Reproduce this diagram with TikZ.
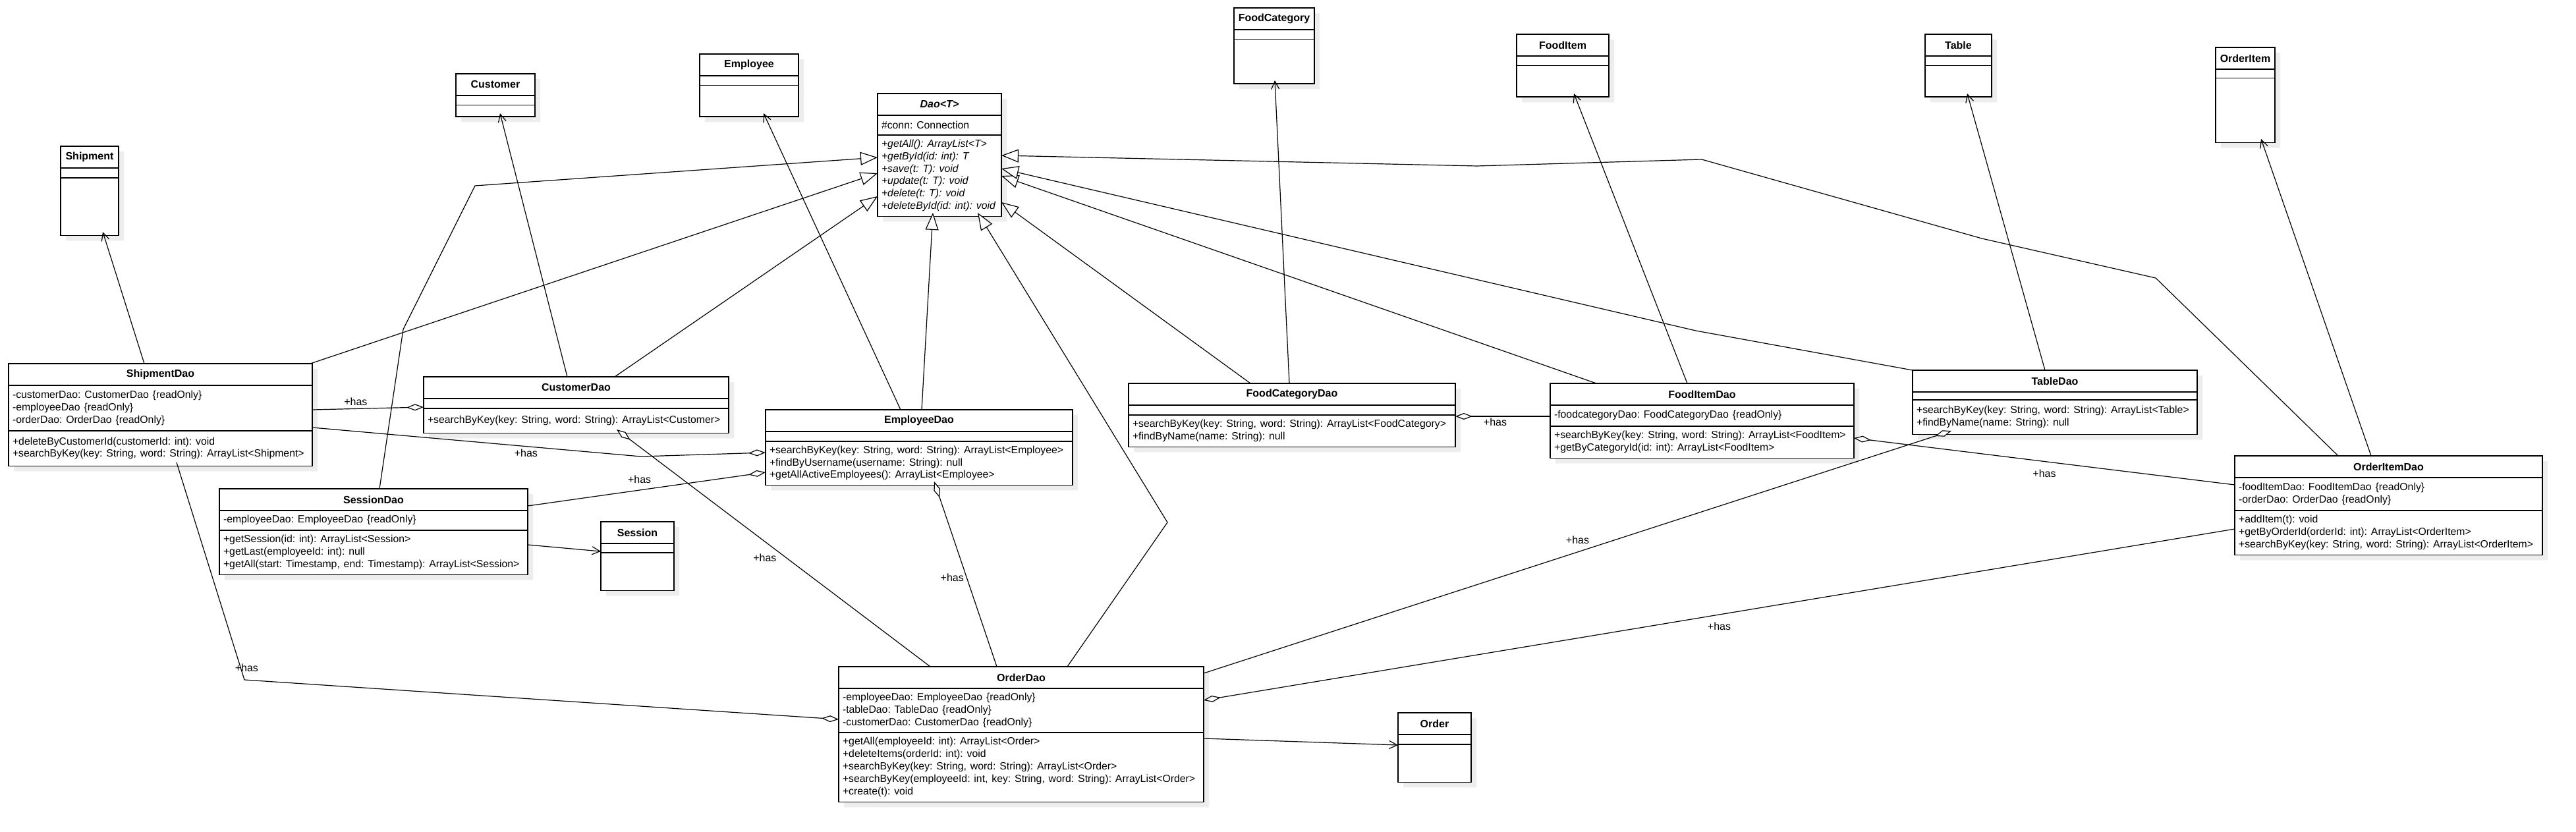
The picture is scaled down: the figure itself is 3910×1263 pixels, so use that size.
\documentclass[tikz,border=0pt]{standalone}
\usepackage{fontspec}
\setmainfont{Liberation Sans}
\usetikzlibrary{shapes.multipart,shadows,arrows.meta}

\newcommand{\ttl}[1]{\parbox[c][15.5pt][c]{\linewidth}{\fontsize{8}{9.4}\selectfont\centering\textbf{#1}}}
\newcommand{\prt}[2]{\parbox[c][#1pt][c]{\dimexpr\linewidth+20pt}{\fontsize{7.9}{9.4}\selectfont\frenchspacing\spaceskip=0.37em\relax\raggedright #2}}

\begin{document}
\begin{tikzpicture}[x=0.5pt,y=-0.5pt,
  cls/.style={rectangle split,rectangle split parts=3,draw,line width=0.9pt,fill=white,
    anchor=north west,inner xsep=3pt,inner ysep=0pt,outer sep=0pt,align=left,
    drop shadow={shadow xshift=4pt,shadow yshift=-4pt,fill=black!7,opacity=1}},
  genline/.style={-{Triangle[fill=white,length=13pt,width=10pt]},line width=0.6pt},
  useline/.style={-{Straight Barb[length=6pt,width=6pt]},line width=0.6pt},
  hasline/.style={-{Diamond[fill=white,length=13pt,width=5pt]},line width=0.6pt},
  haslbl/.style={font=\fontsize{8}{9.4}\selectfont,inner sep=2pt}]
\fill[white] (0,0) rectangle (3910,1263);
\useasboundingbox (0,0) rectangle (3910,1263);

\node[cls,text width=38pt] (Shipment) at (92,222) {\ttl{Shipment}\nodepart{two}\prt{6.5}{}\nodepart{three}\prt{43}{}};
\node[cls,text width=224.5pt] (ShipmentDao) at (13,552) {\ttl{ShipmentDao}
  \nodepart{two}\prt{33.5}{-customerDao: CustomerDao \{readOnly\}\\-employeeDao \{readOnly\}\\-orderDao: OrderDao \{readOnly\}}
  \nodepart{three}\prt{26}{+deleteByCustomerId(customerId: int): void\\+searchByKey(key: String, word: String): ArrayList<Shipment>}};
\node[cls,text width=54pt] (Customer) at (692,112) {\ttl{Customer}\nodepart{two}\prt{6.5}{}\nodepart{three}\prt{8}{}};
\node[cls,text width=225.5pt] (CustomerDao) at (643,572) {\ttl{CustomerDao}
  \nodepart{two}\prt{6.5}{}
  \nodepart{three}\prt{18}{+searchByKey(key: String, word: String): ArrayList<Customer>}};
\node[cls,text width=69pt] (Employee) at (1062,82) {\ttl{Employee}\nodepart{two}\prt{6.5}{}\nodepart{three}\prt{23}{}};
\node[cls,text width=227pt] (EmployeeDao) at (1162,622) {\ttl{EmployeeDao}
  \nodepart{two}\prt{6.5}{}
  \nodepart{three}\prt{32.5}{+searchByKey(key: String, word: String): ArrayList<Employee>\\+findByUsername(username: String): null\\+getAllActiveEmployees(): ArrayList<Employee>}};
\node[cls,text width=88pt] (Dao) at (1332,142) {\ttl{\textit{Dao<T>}}
  \nodepart{two}\prt{14}{\#conn: Connection}
  \nodepart{three}\prt{61}{\itshape +getAll(): ArrayList<T>\\+getById(id: int): T\\+save(t: T): void\\+update(t: T): void\\+delete(t: T): void\\+deleteById(id: int): void}};
\node[cls,text width=228pt] (SessionDao) at (333,742) {\ttl{SessionDao}
  \nodepart{two}\prt{14}{-employeeDao: EmployeeDao \{readOnly\}}
  \nodepart{three}\prt{33}{+getSession(id: int): ArrayList<Session>\\+getLast(employeeId: int): null\\+getAll(start: Timestamp, end: Timestamp): ArrayList<Session>}};
\node[cls,text width=49.5pt] (Session) at (912,792) {\ttl{Session}\nodepart{two}\prt{6}{}\nodepart{three}\prt{28}{}};
\node[cls,text width=271pt] (OrderDao) at (1273,1012) {\ttl{OrderDao}
  \nodepart{two}\prt{32.5}{-employeeDao: EmployeeDao \{readOnly\}\\-tableDao: TableDao \{readOnly\}\\-customerDao: CustomerDao \{readOnly\}}
  \nodepart{three}\prt{52}{+getAll(employeeId: int): ArrayList<Order>\\+deleteItems(orderId: int): void\\+searchByKey(key: String, word: String): ArrayList<Order>\\+searchByKey(employeeId: int, key: String, word: String): ArrayList<Order>\\+create(t): void}};
\node[cls,text width=49.5pt] (Order) at (2122,1082) {\ttl{Order}\nodepart{two}\prt{6.5}{}\nodepart{three}\prt{28}{}};
\node[cls,text width=55pt] (FoodCategory) at (1873,12) {\ttl{FoodCategory}\nodepart{two}\prt{6.5}{}\nodepart{three}\prt{33}{}};
\node[cls,text width=242pt] (FoodCategoryDao) at (1713,582) {\ttl{FoodCategoryDao}
  \nodepart{two}\prt{6.5}{}
  \nodepart{three}\prt{23.5}{+searchByKey(key: String, word: String): ArrayList<FoodCategory>\\+findByName(name: String): null}};
\node[cls,text width=64pt] (FoodItem) at (2302,52) {\ttl{FoodItem}\nodepart{two}\prt{6.5}{}\nodepart{three}\prt{23}{}};
\node[cls,text width=224.5pt] (FoodItemDao) at (2353,582) {\ttl{FoodItemDao}
  \nodepart{two}\prt{15}{-foodcategoryDao: FoodCategoryDao \{readOnly\}}
  \nodepart{three}\prt{23.5}{+searchByKey(key: String, word: String): ArrayList<FoodItem>\\+getByCategoryId(id: int): ArrayList<FoodItem>}};
\node[cls,text width=44.5pt] (Table) at (2922,52) {\ttl{Table}\nodepart{two}\prt{6.5}{}\nodepart{three}\prt{23}{}};
\node[cls,text width=210pt] (TableDao) at (2903,562) {\ttl{TableDao}
  \nodepart{two}\prt{5}{}
  \nodepart{three}\prt{25.5}{+searchByKey(key: String, word: String): ArrayList<Table>\\+findByName(name: String): null}};
\node[cls,text width=39pt] (OrderItem) at (3363,72) {\ttl{OrderItem}\nodepart{two}\prt{6}{}\nodepart{three}\prt{48}{}};
\node[cls,text width=227.5pt] (OrderItemDao) at (3392,692) {\ttl{OrderItemDao}
  \nodepart{two}\prt{24}{-foodItemDao: FoodItemDao \{readOnly\}\\-orderDao: OrderDao \{readOnly\}}
  \nodepart{three}\prt{33}{+addItem(t): void\\+getByOrderId(orderId: int): ArrayList<OrderItem>\\+searchByKey(key: String, word: String): ArrayList<OrderItem>}};

% generalization
\draw[genline] ([shift={(458,0)}]ShipmentDao.north west) -- ([shift={(0,121)}]Dao.north west);
\draw[genline] ([shift={(243,0)}]SessionDao.north west) -- (612,500) -- (721,282) -- ([shift={(0,97)}]Dao.north west);
\draw[genline] ([shift={(290,0)}]CustomerDao.north west) -- ([shift={(0,156)}]Dao.north west);
\draw[genline] ([shift={(237,0)}]EmployeeDao.north west) -- ([shift={(84,181)}]Dao.north west);
\draw[genline] ([shift={(347,0)}]OrderDao.north west) -- (1772,793) -- ([shift={(152,181)}]Dao.north west);
\draw[genline] ([shift={(185,0)}]FoodCategoryDao.north west) -- ([shift={(188,165)}]Dao.north west);
\draw[genline] ([shift={(70,0)}]FoodItemDao.north west) -- ([shift={(188,125)}]Dao.north west);
\draw[genline] (TableDao.north west) -- (2574,502) -- ([shift={(188,114)}]Dao.north west);
\draw[genline] ([shift={(157,0)}]OrderItemDao.north west) -- (3272,422) -- (3008,362) -- (2583,242) -- (2242,252) -- ([shift={(188,94)}]Dao.north west);

% association
\draw[useline] ([shift={(206,0)}]ShipmentDao.north west) -- ([shift={(64,130)}]Shipment.north west);
\draw[useline] ([shift={(218,0)}]CustomerDao.north west) -- ([shift={(67,60)}]Customer.north west);
\draw[useline] ([shift={(205,0)}]EmployeeDao.north west) -- ([shift={(97,90)}]Employee.north west);
\draw[useline] ([shift={(244,0)}]FoodCategoryDao.north west) -- ([shift={(62,110)}]FoodCategory.north west);
\draw[useline] ([shift={(208,0)}]FoodItemDao.north west) -- ([shift={(87,90)}]FoodItem.north west);
\draw[useline] ([shift={(201,0)}]TableDao.north west) -- ([shift={(64,90)}]Table.north west);
\draw[useline] ([shift={(207,0)}]OrderItemDao.north west) -- ([shift={(69,139)}]OrderItem.north west);
\draw[useline] ([shift={(468,85)}]SessionDao.north west) -- ([shift={(0,45)}]Session.north west);
\draw[useline] ([shift={(554,109)}]OrderDao.north west) -- ([shift={(0,49)}]Order.north west);

% aggregation
\draw[hasline] ([shift={(461,70)}]ShipmentDao.north west) -- node[haslbl,pos=0.39,above]{+has} ([shift={(0,46)}]CustomerDao.north west);
\draw[hasline] ([shift={(461,97)}]ShipmentDao.north west) -- node[haslbl,pos=0.65,below]{+has} (973,693) -- ([shift={(0,65)}]EmployeeDao.north west);
\draw[hasline] ([shift={(468,26)}]SessionDao.north west) -- node[haslbl,pos=0.47,above=3pt]{+has} ([shift={(0,95)}]EmployeeDao.north west);
\draw[hasline] ([shift={(240,0)}]OrderDao.north west) -- node[haslbl,pos=0.48,left]{+has} ([shift={(256,109)}]EmployeeDao.north west);
\draw[hasline] ([shift={(139,0)}]OrderDao.north west) -- node[haslbl,pos=0.46,left=5pt]{+has} ([shift={(293,80)}]CustomerDao.north west);
\draw[hasline] ([shift={(255,150)}]ShipmentDao.north west) -- node[haslbl,pos=0.945,xshift=4.5pt]{+has} (371,1032) -- ([shift={(0,80)}]OrderDao.north west);
\draw[hasline] ([shift={(0,50)}]FoodItemDao.north west) -- node[haslbl,pos=0.58,below,inner sep=1pt]{+has} ([shift={(496,50)}]FoodCategoryDao.north west);
\draw[hasline] ([shift={(554,10)}]OrderDao.north west) -- node[haslbl,pos=0.5,above=4pt]{+has} ([shift={(59,92)}]TableDao.north west);
\draw[hasline] ([shift={(0,44)}]OrderItemDao.north west) -- node[haslbl,pos=0.5,below=4pt]{+has} ([shift={(461,83)}]FoodItemDao.north west);
\draw[hasline] ([shift={(0,111)}]OrderItemDao.north west) -- node[haslbl,pos=0.5,below=3.5pt]{+has} ([shift={(554,51)}]OrderDao.north west);
\end{tikzpicture}
\end{document}
